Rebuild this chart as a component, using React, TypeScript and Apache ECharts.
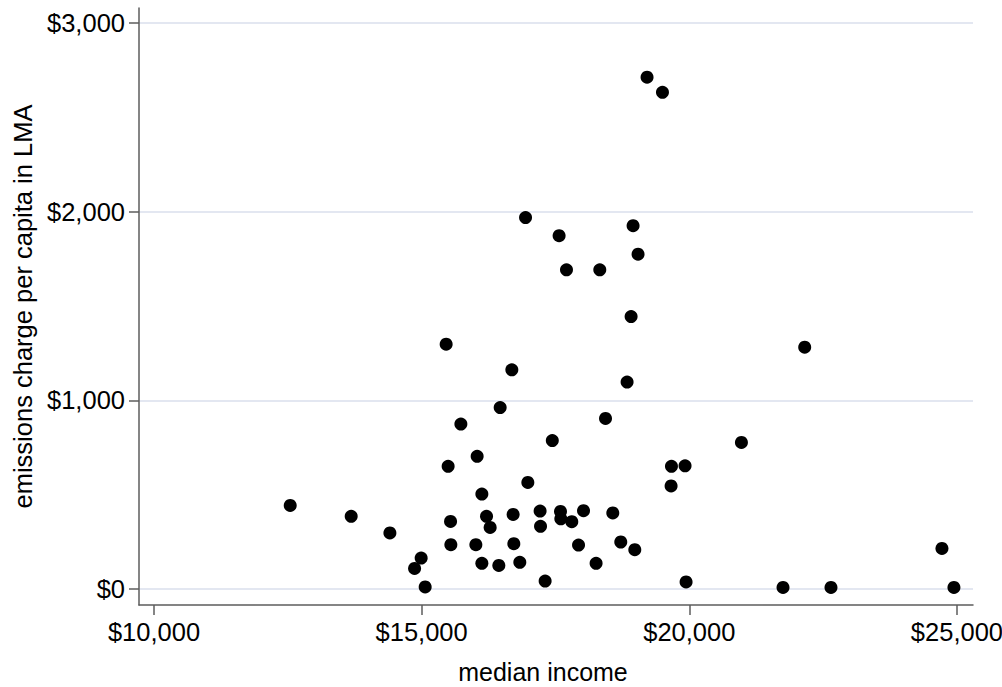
import React, { useEffect, useRef } from "react";
import * as echarts from "echarts";

// median income (x) and emissions charge per capita in LMA (y)
const incomes = [
  12545, 13684, 14407, 14868, 14991, 15066, 15458, 15495, 15540, 15546,
  15733, 16037, 16013, 16125, 16125, 16212, 16280, 16442, 16467, 16685,
  16709, 16722, 16834, 16941, 16984, 17213, 17221, 17307, 17441, 17568,
  17594, 17600, 17706, 17805, 17931, 18024, 18259, 18328, 18435, 18571,
  18720, 18838, 18913, 18950, 18982, 19043, 19211, 19499, 19667, 19660,
  19921, 19940, 20974, 22156, 21751, 22647, 24720, 24944,
];
const charges = [
  443, 385, 297, 109, 164, 11, 1298, 650, 358, 235,
  874, 703, 235, 503, 136, 385, 326, 125, 962, 1162,
  395, 240, 141, 1969, 565, 413, 332, 42, 787, 1873,
  411, 372, 1692, 357, 233, 415, 136, 1692, 904, 403,
  249, 1097, 1444, 1926, 208, 1775, 2713, 2633, 650, 546,
  653, 37, 777, 1282, 8, 8, 215, 8,
];
const xTicks = [10000, 15000, 20000, 25000];
const yTicks = [0, 1000, 2000, 3000];

const fmt = (v: number) => "$" + Number(v).toLocaleString("en-US");

export default function App() {
  const ref = useRef<HTMLDivElement>(null);
  useEffect(() => {
    if (!ref.current) return;
    const chart = echarts.init(ref.current, undefined, { renderer: "svg" });
    const font = "'Liberation Sans', Arial, sans-serif";
    const axisColor = "#5c5c5c";
    const textColor = "#000000";
    const fs = 25.5;
    chart.setOption({
      animation: false,
      backgroundColor: "#ffffff",
      textStyle: { fontFamily: font },
      grid: { left: 139, top: 8, right: 29, bottom: 82, containLabel: false, outerBoundsMode: "none" },
      xAxis: {
        type: "value",
        min: 9720,
        max: 25300,
        name: "median income",
        nameLocation: "middle",
        nameGap: 54,
        nameTextStyle: { fontSize: 25, lineHeight: 26, color: textColor, fontFamily: font, padding: [0, 26, 0, 0] },
        axisLine: { show: true, onZero: false, lineStyle: { color: axisColor, width: 1.5 } },
        axisTick: { show: true, length: 10, customValues: xTicks, lineStyle: { color: axisColor, width: 1.5 } },
        axisLabel: { customValues: xTicks, formatter: fmt, fontSize: fs, color: textColor, margin: 14, fontFamily: font },
        splitLine: { show: false },
      },
      yAxis: {
        type: "value",
        min: -85,
        max: 3080,
        name: "emissions charge per capita in LMA",
        nameLocation: "middle",
        nameGap: 102,
        nameTextStyle: { fontSize: fs, color: textColor, fontFamily: font },
        axisLine: { show: true, onZero: false, lineStyle: { color: axisColor, width: 1.5 } },
        axisTick: { show: true, length: 10, customValues: yTicks, lineStyle: { color: axisColor, width: 1.5 } },
        axisLabel: { customValues: yTicks, formatter: fmt, fontSize: fs, color: textColor, margin: 14, fontFamily: font },
        splitLine: { show: true, lineStyle: { color: "#e3e7f1", width: 2 } },
      },
      series: [
        {
          type: "scatter",
          symbol: "circle",
          symbolSize: 13,
          itemStyle: { color: "#000000", opacity: 1 },
          data: incomes.map((x, i) => [x, charges[i]]),
          z: 3,
        },
      ],
    });
    return () => chart.dispose();
  }, []);
  return (
    <div
      ref={ref}
      style={{ position: "absolute", left: 0, top: 0, width: 1002, height: 687, background: "#fff" }}
    />
  );
}
